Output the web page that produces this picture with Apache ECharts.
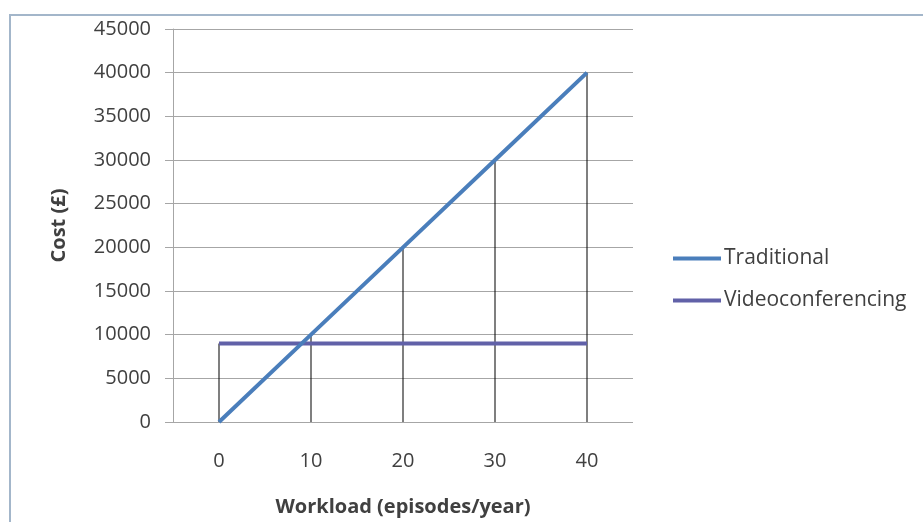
<!DOCTYPE html>
<html>
<head>
<meta charset="utf-8">
<script src="https://cdn.jsdelivr.net/npm/echarts@6/dist/echarts.min.js"></script>
<style>
html,body{margin:0;padding:0;background:#fff;}
#chart{width:923px;height:522px;}
</style>
</head>
<body>
<div id="chart"></div>
<script>
const categories = ["0", "10", "20", "30", "40"];
const traditional = [0, 10000, 20000, 30000, 40000];
const videoconferencing = [9000, 9000, 9000, 9000, 9000];
const yTicks = { min: 0, max: 45000, interval: 5000 };

const dropLines = categories.map((c, i) => Math.max(traditional[i], videoconferencing[i]));

const FONT = "Open Sans";
const TXT = "#404040";

const chart = echarts.init(document.getElementById('chart'), null, { renderer: 'canvas' });
chart.setOption({
  backgroundColor: '#fff',
  animation: false,
  textStyle: { fontFamily: FONT },
  graphic: [{
    type: 'rect',
    shape: { x: 10, y: 15, width: 940, height: 540 },
    style: { fill: 'none', stroke: '#a3b6ca', lineWidth: 2 },
    silent: true
  }],
  grid: { left: 173, right: 290, top: 29, bottom: 97, containLabel: false },
  legend: {
    orient: 'vertical',
    left: 668,
    top: 243,
    icon: 'rect',
    itemWidth: 48,
    itemHeight: 4,
    itemGap: 21,
    data: ['Traditional', 'Videoconferencing'],
    textStyle: { fontFamily: FONT, fontSize: 21, color: TXT, padding: [0, 0, 0, -2] }
  },
  xAxis: {
    type: 'category',
    data: categories,
    boundaryGap: true,
    axisLine: { show: false },
    axisTick: { show: false },
    axisLabel: { fontFamily: FONT, fontSize: 20, color: TXT, margin: 29 },
    name: 'Workload (episodes/year)',
    nameLocation: 'middle',
    nameGap: 75,
    nameTextStyle: { fontFamily: FONT, fontSize: 20, fontWeight: 'bold', color: TXT }
  },
  yAxis: {
    type: 'value',
    min: yTicks.min,
    max: yTicks.max,
    interval: yTicks.interval,
    axisLine: { show: true, lineStyle: { color: '#a6a6a6', width: 1 } },
    axisTick: { show: true, length: 8, lineStyle: { color: '#a6a6a6' } },
    splitLine: { show: true, lineStyle: { color: '#a6a6a6', width: 1 } },
    axisLabel: { fontFamily: FONT, fontSize: 20, color: TXT, margin: 22, formatter: v => String(v) },
    name: 'Cost (£)',
    nameLocation: 'middle',
    nameGap: 104,
    nameTextStyle: { fontFamily: FONT, fontSize: 20, fontWeight: 'bold', color: TXT }
  },
  series: [
    {
      name: 'drop',
      type: 'bar',
      data: dropLines,
      barWidth: 1,
      itemStyle: { color: '#000' },
      silent: true,
      z: 1
    },
    {
      name: 'Traditional',
      type: 'line',
      data: traditional,
      symbol: 'none',
      lineStyle: { color: '#4A7EBB', width: 4 },
      itemStyle: { color: '#4A7EBB' },
      z: 3
    },
    {
      name: 'Videoconferencing',
      type: 'line',
      data: videoconferencing,
      symbol: 'none',
      lineStyle: { color: '#6161A8', width: 4 },
      itemStyle: { color: '#6161A8' },
      z: 2
    }
  ]
});
</script>
</body>
</html>
